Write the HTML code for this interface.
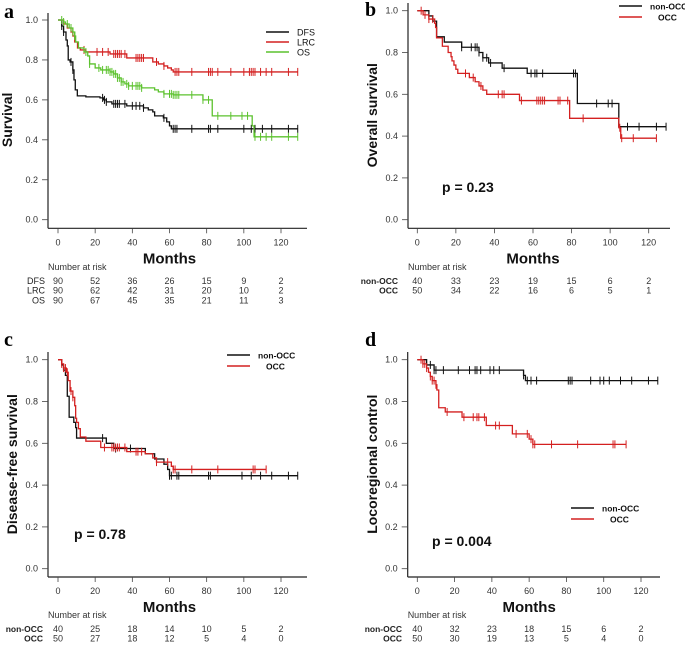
<!DOCTYPE html>
<html><head><meta charset="utf-8">
<style>
html,body{margin:0;padding:0;background:#fff;}
svg{display:block;font-family:"Liberation Sans",Arial,sans-serif;}
</style></head>
<body>
<svg id="chart" width="685" height="647" viewBox="0 0 685 647"></svg>
<script>
// ---- Data: step curves (time, survival) and censor times ----
const tickMonths=[0,20,40,60,80,100,120];
const yTicks=[0.0,0.2,0.4,0.6,0.8,1.0];
const yTickLabels=["0.0","0.2","0.4","0.6","0.8","1.0"];

// Panel a
const aDfsT=[0,2,3,4.3,5,5.5,6.5,8,8.6,9.3,10.4,15,22.6,24.4,26,29,37,46,48.6,51,52,56.7,58.5,60,61];
const aDfsS=[1,0.97,0.94,0.9,0.87,0.8,0.79,0.75,0.7,0.65,0.62,0.615,0.61,0.6,0.59,0.58,0.57,0.56,0.55,0.54,0.52,0.51,0.49,0.47,0.455];
const aDfsC=[2,3,7,8,24,25,26,30,31,32,33,36,40,42,44,46,57,62,63,64,72,81,82,86,100,104,106,110,115,124,129];
const aLrcT=[0,3,5,7,8,9,10.5,12,15,28,37,51,54,57,59,61,62];
const aLrcS=[1,0.98,0.96,0.94,0.92,0.89,0.86,0.85,0.84,0.83,0.81,0.79,0.78,0.77,0.76,0.75,0.74];
const aLrcC=[14,21,24,27,30,31,32,33,34,36,42,43,44,45,46,53,57,63,64,65,72,81,82,83,86,93,100,103,104,105,106,109,112,115,124,129];
const aOsT=[0,3,4,6,8,9,9.5,11,14,16,17,20,23,28,30,32,34,36,38,45,52,54,57,62,78,83,104.5,105.5];
const aOsS=[1,0.99,0.98,0.96,0.94,0.92,0.89,0.86,0.84,0.82,0.78,0.76,0.75,0.74,0.73,0.71,0.69,0.68,0.67,0.66,0.65,0.64,0.63,0.625,0.6,0.52,0.47,0.415];
const aOsC=[2,3,5,7,8,9,15,17,22,24,26,27,28,29,30,31,32,33,34,35,37,38,40,42,43,44,45,57,60,61,62,63,64,65,72,78,81,86,93,99,102,106,109,112,115,124,129];
const aRiskDfs=[90,52,36,26,15,9,2];
const aRiskLrc=[90,62,42,31,20,10,2];
const aRiskOs=[90,67,45,35,21,11,3];

// Panel b (overall survival)
const bNonT=[0,6,8,9,10,14,23,32,34,37,44,57,83,104.5];
const bNonS=[1,0.975,0.95,0.95,0.875,0.85,0.825,0.8,0.775,0.75,0.725,0.7,0.556,0.445];
const bNonC=[23,28,30,31,32,34,36,38,45,59,61,62,65,81,82,93,99,101,109,115,124,129];
const bOccT=[0,3,6,9,9.5,10,13,16,17.5,18,19,20,21,27,30,32,34,36,53,79,104.5,105.5];
const bOccS=[1,0.98,0.96,0.94,0.92,0.87,0.83,0.8,0.78,0.76,0.74,0.72,0.7,0.68,0.66,0.64,0.62,0.6,0.57,0.485,0.44,0.39];
const bOccC=[2,4,6,8,25,29,33,42,44,45,54,62,63,64,65,66,73,74,78,86,105,106,112,124];
const bRiskNon=[40,33,23,19,15,6,2];
const bRiskOcc=[50,34,22,16,6,5,1];

// Panel c (disease-free survival)
const cNonT=[0,2,3,4,5,6,8.5,9.5,10,26,30,47,52,57,59,60];
const cNonS=[1,0.975,0.95,0.925,0.825,0.725,0.7,0.675,0.625,0.6,0.575,0.55,0.525,0.5,0.475,0.445];
const cNonC=[24,31,39,60,61,64,65,81,82,99,104,109,115,124,129];
const cOccT=[0,2,3,4.5,5.5,6.5,8,9,9.5,10,11,12,15,23,37,47,51,53,61,62];
const cOccS=[1,0.98,0.96,0.94,0.9,0.85,0.82,0.78,0.72,0.7,0.67,0.63,0.61,0.58,0.56,0.55,0.53,0.51,0.49,0.475];
const cOccC=[2,3,4,5,7,8,25,29,30,31,32,33,36,42,43,45,53,59,62,63,72,86,105,106,112];
const cRiskNon=[40,25,18,14,10,5,2];
const cRiskOcc=[50,27,18,12,5,4,0];

// Panel d (locoregional control)
const dNonT=[0,5,9,57,58];
const dNonS=[1,0.975,0.95,0.925,0.9];
const dNonC=[7,9,10,14,22,28,31,32,34,39,41,44,57,59,61,64,81,82,83,93,98,100,103,109,115,124,129];
const dOccT=[0,3,5,6,7,8,10,10.5,11.5,15,24,37,51,60,62];
const dOccS=[1,0.98,0.96,0.94,0.92,0.9,0.88,0.855,0.77,0.75,0.725,0.685,0.645,0.62,0.595];
const dOccC=[2,3,4,5,7,8,9,10,16,25,30,32,33,36,42,44,53,59,61,62,63,72,86,105,106,112];
const dRiskNon=[40,32,23,18,15,6,2];
const dRiskOcc=[50,30,19,13,5,4,0];

const NS="http://www.w3.org/2000/svg";
const svg=document.getElementById('chart');
function mk(tag,attrs,parent){const e=document.createElementNS(NS,tag);for(const k in attrs)e.setAttribute(k,attrs[k]);(parent||svg).appendChild(e);return e;}
function txt(s,attrs,parent){const e=mk('text',attrs,parent);e.textContent=s;return e;}

function panel(cfg){
  const g=mk('g',{});
  
  
  const X=m=>cfg.x0+(cfg.x120-cfg.x0)*m/120;
  const Y=v=>cfg.y0+(cfg.y1-cfg.y0)*v;
  // axes
  const ya=mk('line',{x1:cfg.ax,y1:cfg.axTop,x2:cfg.ax,y2:cfg.axY,stroke:'#222','stroke-width':1.2},g);
  
  
  const xa=mk('line',{x1:cfg.ax,y1:cfg.axY,x2:cfg.axRight,y2:cfg.axY,stroke:'#222','stroke-width':1.2},g);
  
  
  yTicks.forEach((v,i)=>{
    mk('line',{x1:cfg.ax-6,y1:Y(v),x2:cfg.ax,y2:Y(v),stroke:'#444','stroke-width':0.8},g);
    const t=txt(yTickLabels[i],{x:cfg.ax-10,y:Y(v)+3,'font-size':9,'text-anchor':'end',fill:'#333'},g);
    
    
  });
  tickMonths.forEach(m=>{
    mk('line',{x1:X(m),y1:cfg.axY,x2:X(m),y2:cfg.axY+5,stroke:'#444','stroke-width':0.8},g);
    const t=txt(String(m),{x:X(m),y:cfg.axY+17,'font-size':9,'text-anchor':'middle',fill:'#333'},g);
    
    
  });
  const xt=txt('Months',{x:X(60),y:cfg.axY+35,'font-size':15,'font-weight':'bold','text-anchor':'middle',fill:'#111'},g);
  
  
  const yt=txt(cfg.ytitle,{x:0,y:0,'font-size':14,'font-weight':'bold','text-anchor':'middle',fill:'#111',transform:`translate(${cfg.ytx},${(Y(0)+Y(1))/2}) rotate(-90)`},g);
  
  
  const pl=txt(cfg.letter,{x:cfg.lx,y:cfg.ly,'font-size':20,'font-weight':'bold','font-family':'Liberation Serif, serif',fill:'#000'},g);
  
  
  // curves
  cfg.series.forEach(s=>{
    let d=`M${X(s.t[0])},${Y(s.s[0])}`;
    for(let i=1;i<s.t.length;i++){d+=` H${X(s.t[i])} V${Y(s.s[i])}`;}
    d+=` H${X(s.end)}`;
    const p=mk('path',{d:d,fill:'none',stroke:s.color,'stroke-width':1.3},g);
    
    
    s.c.forEach(c=>{
      let v=s.s[0];
      for(let i=0;i<s.t.length;i++){if(s.t[i]<=c)v=s.s[i];}
      const cm=mk('line',{x1:X(c),y1:Y(v)-4,x2:X(c),y2:Y(v)+4,stroke:s.color,'stroke-width':1},g);
      
      
    });
  });
  // legend
  cfg.series.forEach((s,i)=>{
    const ly=cfg.legY+i*cfg.legDy;
    mk('line',{x1:cfg.legX,y1:ly,x2:cfg.legX+23,y2:ly,stroke:s.color,'stroke-width':1.5},g);
    const t=txt(s.label,{x:cfg.legX+31+(s.indent||0),y:ly+3.5,'font-size':cfg.legFs,'font-weight':cfg.legBold?'bold':'normal',fill:'#111'},g);
    
    
  });
  if(cfg.p){
    const pt=txt(cfg.p,{x:cfg.px,y:cfg.py,'font-size':14,'font-weight':'bold',fill:'#111'},g);
    
    
  }
  // number at risk
  const nt=txt('Number at risk',{x:cfg.ax,y:cfg.riskY,'font-size':9,fill:'#333'},g);
  
  
  cfg.series.forEach((s,i)=>{
    const ry=cfg.riskY+14+i*cfg.riskDy;
    const l=txt(s.riskLabel,{x:cfg.riskLx,y:ry,'font-size':cfg.legBold?8.5:9,'font-weight':cfg.legBold?'bold':'normal','text-anchor':'end',fill:'#222'},g);
    
    
    s.risk.forEach((n,j)=>{
      const t=txt(String(n),{x:X(tickMonths[j]),y:ry,'font-size':9,'text-anchor':'middle',fill:'#333'},g);
      
      
    });
  });
}

panel({name:'panel-a',letter:'a',lx:4,ly:18,x0:58,x120:281,y1:20,y0:219.7,ax:48,axTop:13,axY:228.3,axRight:307,
  ytitle:'Survival',ytx:12,legX:266,legY:32,legDy:10,legFs:9,legBold:false,riskY:270,riskDy:9.7,riskLx:45,
  series:[
    {id:'dfs',label:'DFS',riskLabel:'DFS',color:'#111',t:aDfsT,s:aDfsS,c:aDfsC,end:129,risk:aRiskDfs},
    {id:'lrc',label:'LRC',riskLabel:'LRC',color:'#d42020',t:aLrcT,s:aLrcS,c:aLrcC,end:129,risk:aRiskLrc},
    {id:'os',label:'OS',riskLabel:'OS',color:'#5cc22e',t:aOsT,s:aOsS,c:aOsC,end:129,risk:aRiskOs}]});

panel({name:'panel-b',letter:'b',lx:365,ly:16,x0:417.3,x120:648.7,y1:10.7,y0:219.7,ax:408,axTop:3,axY:228.3,axRight:670,
  ytitle:'Overall survival',ytx:377,legX:619,legY:6,legDy:11,legFs:8.5,legBold:true,p:'p = 0.23',px:442,py:192,riskY:270,riskDy:9.5,riskLx:398,
  series:[
    {id:'non-occ',label:'non-OCC',riskLabel:'non-OCC',color:'#111',t:bNonT,s:bNonS,c:bNonC,end:129,risk:bRiskNon},
    {id:'occ',label:'OCC',indent:8,riskLabel:'OCC',color:'#d42020',t:bOccT,s:bOccS,c:bOccC,end:124,risk:bRiskOcc}]});

panel({name:'panel-c',letter:'c',lx:4,ly:346,x0:58,x120:281,y1:359.7,y0:568.7,ax:48,axTop:352,axY:577,axRight:307,
  ytitle:'Disease-free survival',ytx:17,legX:227,legY:355,legDy:11,legFs:8.5,legBold:true,p:'p = 0.78',px:74,py:539,riskY:618,riskDy:9.5,riskLx:43,
  series:[
    {id:'non-occ',label:'non-OCC',riskLabel:'non-OCC',color:'#111',t:cNonT,s:cNonS,c:cNonC,end:129,risk:cRiskNon},
    {id:'occ',label:'OCC',indent:8,riskLabel:'OCC',color:'#d42020',t:cOccT,s:cOccS,c:cOccC,end:112,risk:cRiskOcc}]});

panel({name:'panel-d',letter:'d',lx:365,ly:346,x0:417.3,x120:641,y1:359.7,y0:568.7,ax:407.7,axTop:352,axY:577,axRight:660,
  ytitle:'Locoregional control',ytx:377,legX:571,legY:508,legDy:11,legFs:8.5,legBold:true,p:'p = 0.004',px:432,py:546,riskY:618,riskDy:9.5,riskLx:402,
  series:[
    {id:'non-occ',label:'non-OCC',riskLabel:'non-OCC',color:'#111',t:dNonT,s:dNonS,c:dNonC,end:129,risk:dRiskNon},
    {id:'occ',label:'OCC',indent:8,riskLabel:'OCC',color:'#d42020',t:dOccT,s:dOccS,c:dOccC,end:112,risk:dRiskOcc}]});
</script>
</body></html>
